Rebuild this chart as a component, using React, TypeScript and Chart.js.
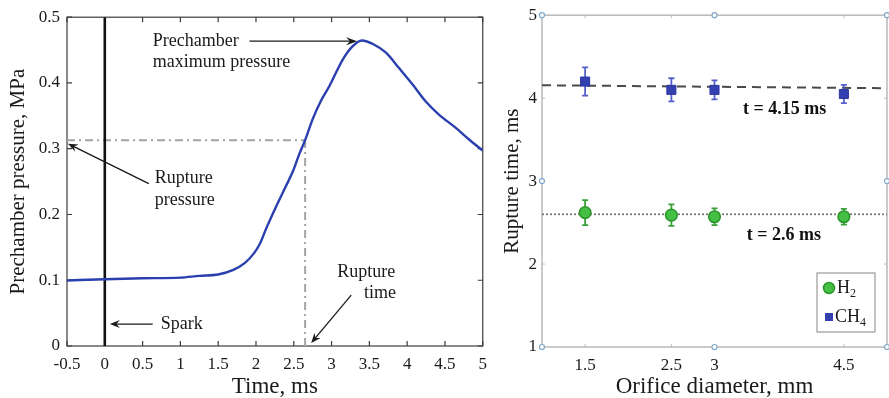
import React, { useEffect, useRef } from "react";
import { Chart, registerables } from "chart.js";

Chart.register(...registerables);

const SERIF = "'Liberation Serif', 'Times New Roman', serif";

// ---------- Left panel data ----------
const timeMs = [-0.5, 0, 0.5, 1, 1.25, 1.5, 1.7, 1.85, 1.98, 2.05, 2.14, 2.27, 2.4, 2.49, 2.58, 2.65, 2.75, 2.86, 2.97, 3.15, 3.28, 3.4, 3.56, 3.72, 3.89, 4.07, 4.24, 4.42, 4.64, 4.82, 5];
const pressureMPa = [0.0996, 0.1016, 0.103, 0.104, 0.1067, 0.1087, 0.1158, 0.126, 0.142, 0.155, 0.18, 0.213, 0.244, 0.266, 0.294, 0.313, 0.345, 0.373, 0.395, 0.436, 0.456, 0.4646, 0.4585, 0.446, 0.423, 0.398, 0.3726, 0.352, 0.332, 0.314, 0.297];
const timeTicks = [-0.5, 0, 0.5, 1, 1.5, 2, 2.5, 3, 3.5, 4, 4.5, 5];
const pressureTicks = [0, 0.1, 0.2, 0.3, 0.4, 0.5];
const sparkTime = 0;
const ruptureTime = 2.65;
const rupturePressure = 0.313;

// ---------- Right panel data ----------
const orificeDiameters = [1.5, 2.5, 3, 4.5];
const h2Rupture = [2.62, 2.59, 2.57, 2.57];
const h2Error = [0.15, 0.13, 0.1, 0.095];
const ch4Rupture = [4.2, 4.1, 4.1, 4.05];
const ch4Error = [0.17, 0.14, 0.115, 0.11];
const fitX = [1, 5];
const ch4Fit = [4.155, 4.12];
const h2Fit = [2.6, 2.6];
const rupTimeTicks = [1, 2, 3, 4, 5];

function arrow(ctx: CanvasRenderingContext2D, x1: number, y1: number, x2: number, y2: number, head = 10, w = 4) {
  ctx.beginPath();
  ctx.moveTo(x1, y1);
  const a = Math.atan2(y2 - y1, x2 - x1);
  ctx.lineTo(x2 - head * 0.6 * Math.cos(a), y2 - head * 0.6 * Math.sin(a));
  ctx.stroke();
  ctx.beginPath();
  ctx.moveTo(x2, y2);
  ctx.lineTo(x2 - head * Math.cos(a) + w * Math.sin(a), y2 - head * Math.sin(a) - w * Math.cos(a));
  ctx.lineTo(x2 - head * 0.65 * Math.cos(a), y2 - head * 0.65 * Math.sin(a));
  ctx.lineTo(x2 - head * Math.cos(a) - w * Math.sin(a), y2 - head * Math.sin(a) + w * Math.cos(a));
  ctx.closePath();
  ctx.fill();
}

const leftFramePlugin = {
  id: "leftFrame",
  beforeDatasetsDraw(chart: any) {
    const { ctx, chartArea: a, scales } = chart;
    const x = scales.x, y = scales.y;
    ctx.save();
    ctx.strokeStyle = "#3c3c3c";
    ctx.lineWidth = 1.2;
    ctx.strokeRect(a.left, a.top, a.right - a.left, a.bottom - a.top);
    const L = 5;
    ctx.beginPath();
    timeTicks.forEach((v) => {
      const px = x.getPixelForValue(v);
      ctx.moveTo(px, a.bottom); ctx.lineTo(px, a.bottom - L);
      ctx.moveTo(px, a.top); ctx.lineTo(px, a.top + L);
    });
    pressureTicks.forEach((v) => {
      const py = y.getPixelForValue(v);
      ctx.moveTo(a.left, py); ctx.lineTo(a.left + L, py);
      ctx.moveTo(a.right, py); ctx.lineTo(a.right - L, py);
    });
    ctx.stroke();
    ctx.restore();
  },
};

const leftAnnotations = {
  id: "leftAnnotations",
  afterDraw(chart: any) {
    const { ctx, scales } = chart;
    const X = (v: number) => scales.x.getPixelForValue(v);
    const Y = (v: number) => scales.y.getPixelForValue(v);
    ctx.save();
    ctx.fillStyle = "#1a1a1a";
    ctx.strokeStyle = "#1a1a1a";
    ctx.lineWidth = 1.3;
    ctx.font = `18px ${SERIF}`;
    ctx.textAlign = "left";
    ctx.textBaseline = "middle";
    ctx.fillText("Prechamber", X(0.634), Y(0.4636));
    ctx.fillText("maximum pressure", X(0.634), Y(0.4318));
    arrow(ctx, X(1.914), Y(0.4636), X(3.338), Y(0.4636), 11, 4);
    ctx.fillText("Rupture", X(0.66), Y(0.2545));
    ctx.fillText("pressure", X(0.66), Y(0.2212));
    arrow(ctx, X(0.582), Y(0.247), X(-0.487), Y(0.3076), 10, 4);
    ctx.fillText("Spark", X(0.74), Y(0.0333));
    arrow(ctx, X(0.634), Y(0.0333), X(0.067), Y(0.0333), 10, 4);
    ctx.fillText("Rupture", X(3.075), Y(0.112));
    ctx.fillText("time", X(3.43), Y(0.08));
    arrow(ctx, X(3.26), Y(0.0773), X(2.73), Y(0.0045), 10, 4);
    ctx.restore();
  },
};

const errorBarPlugin = {
  id: "errorBars",
  beforeDatasetDraw(chart: any, args: any) {
    const ds: any = chart.data.datasets[args.index];
    if (!ds.errors) return;
    const { ctx, scales } = chart;
    ctx.save();
    ctx.strokeStyle = ds.errorColor;
    ctx.lineWidth = 1.8;
    ctx.beginPath();
    ds.data.forEach((p: any, i: number) => {
      const px = scales.x.getPixelForValue(p.x);
      const yt = scales.y.getPixelForValue(p.y + ds.errors[i]);
      const yb = scales.y.getPixelForValue(p.y - ds.errors[i]);
      ctx.moveTo(px, yt); ctx.lineTo(px, yb);
      ctx.moveTo(px - 3, yt); ctx.lineTo(px + 3, yt);
      ctx.moveTo(px - 3, yb); ctx.lineTo(px + 3, yb);
    });
    ctx.stroke();
    ctx.restore();
  },
};

const rightFramePlugin = {
  id: "rightFrame",
  beforeDatasetsDraw(chart: any) {
    const { ctx, chartArea: a, scales } = chart;
    ctx.save();
    ctx.strokeStyle = "#bdbdbd";
    ctx.lineWidth = 1.6;
    ctx.strokeRect(a.left, a.top, a.right - a.left, a.bottom - a.top);
    ctx.lineWidth = 1;
    ctx.beginPath();
    orificeDiameters.forEach((v) => {
      const px = scales.x.getPixelForValue(v);
      ctx.moveTo(px, a.bottom); ctx.lineTo(px, a.bottom - 3);
      ctx.moveTo(px, a.top); ctx.lineTo(px, a.top + 3);
    });
    rupTimeTicks.forEach((v) => {
      const py = scales.y.getPixelForValue(v);
      ctx.moveTo(a.left, py); ctx.lineTo(a.left + 3, py);
      ctx.moveTo(a.right, py); ctx.lineTo(a.right - 3, py);
    });
    ctx.stroke();
    ctx.restore();
  },
  afterDraw(chart: any) {
    const { ctx, chartArea: a, scales } = chart;
    const X = (v: number) => scales.x.getPixelForValue(v);
    const Y = (v: number) => scales.y.getPixelForValue(v);
    ctx.save();
    // fit labels
    ctx.fillStyle = "#111";
    ctx.font = `bold 18px ${SERIF}`;
    ctx.textAlign = "left";
    ctx.textBaseline = "middle";
    ctx.fillText("t = 4.15 ms", X(3.33), Y(3.87));
    ctx.fillText("t = 2.6 ms", X(3.375), Y(2.345));
    // legend
    const bx = a.right - 70, by = a.bottom - 74, bw = 58, bh = 59;
    ctx.fillStyle = "#fff";
    ctx.fillRect(bx, by, bw, bh);
    ctx.strokeStyle = "#9a9a9a";
    ctx.lineWidth = 1.2;
    ctx.strokeRect(bx, by, bw, bh);
    const r1 = by + 15, r2 = by + 44;
    ctx.beginPath();
    ctx.arc(bx + 12, r1, 5.5, 0, Math.PI * 2);
    ctx.fillStyle = "#45c045";
    ctx.fill();
    ctx.strokeStyle = "#2c962c";
    ctx.lineWidth = 1.5;
    ctx.stroke();
    ctx.fillStyle = "#3440b0";
    ctx.fillRect(bx + 8, r2 - 4, 8, 8);
    ctx.fillStyle = "#1a1a1a";
    ctx.font = `18px ${SERIF}`;
    ctx.fillText("H", bx + 20, r1);
    let w = ctx.measureText("H").width;
    ctx.font = `12px ${SERIF}`;
    ctx.fillText("2", bx + 20 + w, r1 + 6);
    ctx.font = `18px ${SERIF}`;
    ctx.fillText("CH", bx + 18, r2);
    w = ctx.measureText("CH").width;
    ctx.font = `12px ${SERIF}`;
    ctx.fillText("4", bx + 18 + w, r2 + 6);
    // selection handles
    const mx = (a.left + a.right) / 2, my = (a.top + a.bottom) / 2;
    const pts = [
      [a.left, a.top], [mx, a.top], [a.right, a.top],
      [a.left, my], [a.right, my],
      [a.left, a.bottom], [mx, a.bottom], [a.right, a.bottom],
    ];
    ctx.strokeStyle = "#7fa9cc";
    ctx.fillStyle = "#fff";
    ctx.lineWidth = 1.2;
    pts.forEach(([px, py]) => {
      ctx.beginPath();
      ctx.arc(px, py, 2.5, 0, Math.PI * 2);
      ctx.fill();
      ctx.stroke();
    });
    ctx.restore();
  },
};

const fmt = (v: number) => String(Math.round(v * 100) / 100);

function leftConfig(): any {
  return {
    type: "scatter",
    data: {
      datasets: [
        {
          label: "Prechamber pressure",
          data: timeMs.map((t, i) => ({ x: t, y: pressureMPa[i] })),
          showLine: true,
          borderColor: "#2b3fae",
          borderWidth: 2.4,
          pointRadius: 0,
          cubicInterpolationMode: "monotone",
          order: 0,
        },
        {
          label: "Spark",
          data: [{ x: sparkTime, y: 0 }, { x: sparkTime, y: 0.5 }],
          showLine: true,
          borderColor: "#111",
          borderWidth: 2.6,
          pointRadius: 0,
          order: 1,
        },
        {
          label: "Rupture pressure",
          data: [{ x: -0.5, y: rupturePressure }, { x: ruptureTime, y: rupturePressure }],
          showLine: true,
          borderColor: "#a3a3a3",
          borderWidth: 2,
          borderDash: [8, 4, 2, 4],
          pointRadius: 0,
          order: 2,
        },
        {
          label: "Rupture time",
          data: [{ x: ruptureTime, y: 0 }, { x: ruptureTime, y: rupturePressure }],
          showLine: true,
          borderColor: "#a3a3a3",
          borderWidth: 2,
          borderDash: [8, 4, 2, 4],
          pointRadius: 0,
          order: 2,
        },
      ],
    },
    options: {
      responsive: false,
      animation: false,
      devicePixelRatio: 1,
      layout: { autoPadding: false, padding: { left: 0, right: 11, top: 16, bottom: 0 } },
      plugins: { legend: { display: false }, tooltip: { enabled: false } },
      scales: {
        x: {
          type: "linear",
          min: -0.5,
          max: 5,
          afterBuildTicks: (s: any) => { s.ticks = timeTicks.map((v) => ({ value: v })); },
          afterFit: (s: any) => { s.height = 52; },
          grid: { display: false, drawTicks: false },
          border: { display: false },
          ticks: { color: "#1a1a1a", font: { family: SERIF, size: 17 }, padding: 8, callback: (v: any) => fmt(v), maxRotation: 0, autoSkip: false },
          title: { display: true, text: "Time, ms", color: "#1a1a1a", font: { family: SERIF, size: 23, lineHeight: 1 }, padding: { top: 0, bottom: 0 } },
        },
        y: {
          type: "linear",
          min: 0,
          max: 0.5,
          afterBuildTicks: (s: any) => { s.ticks = pressureTicks.map((v) => ({ value: v })); },
          afterFit: (s: any) => { s.width = 67; },
          grid: { display: false, drawTicks: false },
          border: { display: false },
          ticks: { color: "#1a1a1a", font: { family: SERIF, size: 17 }, padding: 7, callback: (v: any) => fmt(v) },
          title: { display: true, text: "Prechamber pressure, MPa", color: "#1a1a1a", font: { family: SERIF, size: 21, lineHeight: 1 }, padding: { top: 8, bottom: 0 } },
        },
      },
    },
    plugins: [leftFramePlugin, leftAnnotations],
  };
}

function rightConfig(): any {
  return {
    type: "scatter",
    data: {
      datasets: [
        {
          label: "CH4 fit",
          data: fitX.map((x, i) => ({ x, y: ch4Fit[i] })),
          showLine: true,
          borderColor: "#4a4a4a",
          borderWidth: 2,
          borderDash: [9, 6],
          pointRadius: 0,
          order: 3,
        },
        {
          label: "H2 fit",
          data: fitX.map((x, i) => ({ x, y: h2Fit[i] })),
          showLine: true,
          borderColor: "#7a7a7a",
          borderWidth: 1.8,
          borderDash: [2, 2],
          pointRadius: 0,
          order: 3,
        },
        {
          label: "CH4",
          data: orificeDiameters.map((x, i) => ({ x, y: ch4Rupture[i] })),
          errors: ch4Error,
          errorColor: "#5560c8",
          pointStyle: "rect",
          pointRadius: 6.4,
          backgroundColor: "#3440b0",
          borderColor: "#2a35a0",
          borderWidth: 1,
          order: 1,
        },
        {
          label: "H2",
          data: orificeDiameters.map((x, i) => ({ x, y: h2Rupture[i] })),
          errors: h2Error,
          errorColor: "#3aa03a",
          pointStyle: "circle",
          pointRadius: 5.8,
          backgroundColor: "#45c045",
          borderColor: "#2c962c",
          borderWidth: 1.6,
          order: 0,
        },
      ],
    },
    options: {
      responsive: false,
      animation: false,
      devicePixelRatio: 1,
      layout: { autoPadding: false, padding: { left: 0, right: 2, top: 14, bottom: 0 } },
      plugins: { legend: { display: false }, tooltip: { enabled: false } },
      scales: {
        x: {
          type: "linear",
          min: 1,
          max: 5,
          afterBuildTicks: (s: any) => { s.ticks = orificeDiameters.map((v) => ({ value: v })); },
          afterFit: (s: any) => { s.height = 51; },
          grid: { display: false, drawTicks: false },
          border: { display: false },
          ticks: { color: "#1a1a1a", font: { family: SERIF, size: 17 }, padding: 8, callback: (v: any) => fmt(v), maxRotation: 0, autoSkip: false },
          title: { display: true, text: "Orifice diameter, mm", color: "#1a1a1a", font: { family: SERIF, size: 23, lineHeight: 1 }, padding: { top: 0, bottom: 0 } },
        },
        y: {
          type: "linear",
          min: 1,
          max: 5,
          afterBuildTicks: (s: any) => { s.ticks = rupTimeTicks.map((v) => ({ value: v })); },
          afterFit: (s: any) => { s.width = 47; },
          grid: { display: false, drawTicks: false },
          border: { display: false },
          ticks: { color: "#1a1a1a", font: { family: SERIF, size: 17 }, padding: 5, callback: (v: any) => fmt(v) },
          title: { display: true, text: "Rupture time, ms", color: "#1a1a1a", font: { family: SERIF, size: 21, lineHeight: 1 }, padding: { top: 7, bottom: 0 } },
        },
      },
    },
    plugins: [errorBarPlugin, rightFramePlugin],
  };
}

export default function App() {
  const leftRef = useRef<HTMLCanvasElement>(null);
  const rightRef = useRef<HTMLCanvasElement>(null);
  useEffect(() => {
    const c1 = new Chart(leftRef.current!, leftConfig());
    const c2 = new Chart(rightRef.current!, rightConfig());
    return () => {
      c1.destroy();
      c2.destroy();
    };
  }, []);
  return (
    <div style={{ position: "absolute", left: 0, top: 0, width: 889, height: 398, background: "#fff" }}>
      <canvas ref={leftRef} width={495} height={398} style={{ position: "absolute", left: 0, top: 0 }} />
      <canvas ref={rightRef} width={394} height={398} style={{ position: "absolute", left: 495, top: 0 }} />
    </div>
  );
}
